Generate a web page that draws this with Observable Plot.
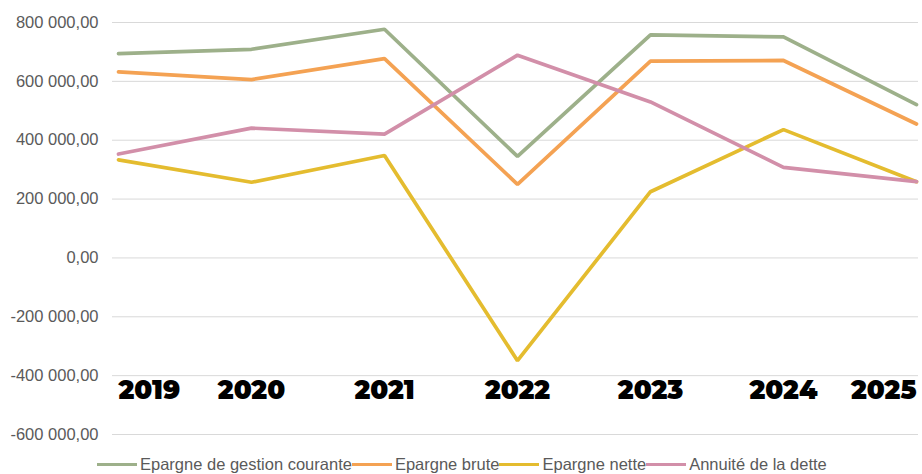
<!DOCTYPE html>
<html>
<head>
<meta charset="utf-8">
<script src="https://cdn.jsdelivr.net/npm/d3@7"></script>
<script src="https://cdn.jsdelivr.net/npm/@observablehq/plot@0.6"></script>
<style>
  html, body { margin: 0; padding: 0; background: #fff; }
  #wrap { width: 922px; height: 474px; position: relative; overflow: hidden; }
  .legend { display: flex; align-items: center; margin-left: 97px; margin-top: 7px;
    font-family: "Liberation Sans", Arial, sans-serif; font-size: 16.5px; color: #5a5a5a; white-space: nowrap; }
  .legend .sw { display: inline-block; width: 40px; height: 3px; margin-right: 3px; }
  .legend .item { display: flex; align-items: center; }
</style>
</head>
<body>
<div id="wrap"></div>
<script>
const years = ["2019", "2020", "2021", "2022", "2023", "2024", "2025"];
const seriesNames = ["Epargne de gestion courante", "Epargne brute", "Epargne nette", "Annuité de la dette"];
const seriesColors = ["#9db08a", "#f4a253", "#e4bc2f", "#d28fa9"];
const epargneGestion = [694000, 709000, 777000, 345000, 758000, 751000, 521000];
const epargneBrute   = [632000, 606000, 677000, 250000, 669000, 671000, 455000];
const epargneNette   = [333000, 257000, 348000, -349000, 225000, 436000, 259000];
const annuiteDette   = [353000, 441000, 421000, 689000, 530000, 308000, 259000];
const yTicks = [-600000, -400000, -200000, 0, 200000, 400000, 600000, 800000];
const yDomain = [-600000, 800000];
const yearLabelLevel = -400000;

const allSeries = [epargneGestion, epargneBrute, epargneNette, annuiteDette];
const data = [];
allSeries.forEach((vals, si) => vals.forEach((v, i) => data.push({series: seriesNames[si], year: years[i], value: v})));

const fr = d3.formatLocale({decimal: ",", thousands: " ", grouping: [3], currency: ["", " €"], minus: "-"});
const fmt = fr.format(",.2f");

const yearFont = "Montserrat, Lato, 'DejaVu Sans', sans-serif";
const yearText = (arr, anchor) => Plot.text(arr, {
  x: d => d, y: () => yearLabelLevel, dy: 15, text: d => d, textAnchor: anchor,
  fill: "#000", fontSize: 26, fontWeight: 900, fontFamily: yearFont
});

const chart = Plot.plot({
  width: 922,
  height: 448,
  marginLeft: 115,
  marginRight: 4,
  marginTop: 22,
  marginBottom: 14,
  style: {fontFamily: "'Liberation Sans', Arial, sans-serif", background: "#fff"},
  x: {type: "point", domain: years, padding: 0, axis: null},
  y: {domain: yDomain, ticks: yTicks, tickFormat: fmt, label: null},
  color: {domain: seriesNames, range: seriesColors},
  marks: [
    Plot.gridY(yTicks, {stroke: "#d9d9d9", strokeOpacity: 1, strokeWidth: 1, insetLeft: -3}),
    Plot.axisY(yTicks, {tickSize: 0, tickPadding: 17, tickFormat: fmt, fontSize: 16.5, fill: "#5a5a5a", label: null}),
    Plot.line(data, {x: "year", y: "value", z: "series", stroke: "series", strokeWidth: 3.7, strokeLinejoin: "miter", curve: "linear"}),
    yearText(years.slice(0, 1), "start"),
    yearText(years.slice(1, -1), "middle"),
    yearText(years.slice(-1), "end")
  ]
});

const wrap = document.getElementById("wrap");
wrap.appendChild(chart);

const legend = document.createElement("div");
legend.className = "legend";
seriesNames.forEach((n, i) => {
  const it = document.createElement("span");
  it.className = "item";
  const sw = document.createElement("span");
  sw.className = "sw";
  sw.style.background = seriesColors[i];
  const tx = document.createElement("span");
  tx.textContent = n;
  it.appendChild(sw); it.appendChild(tx);
  legend.appendChild(it);
});
wrap.appendChild(legend);
</script>
</body>
</html>
